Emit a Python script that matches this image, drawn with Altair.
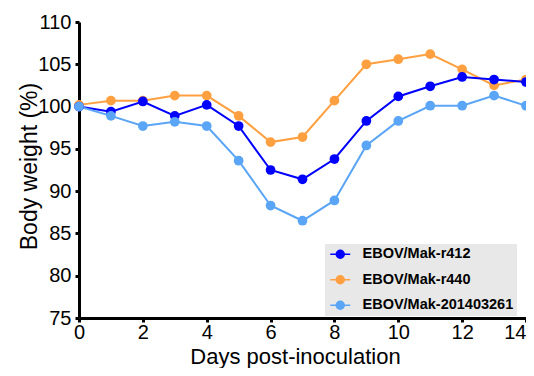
import altair as alt
import pandas as pd

days = list(range(15))
series_names = ["EBOV/Mak-r412", "EBOV/Mak-r440", "EBOV/Mak-201403261"]
colors = ["#0000FF", "#FFA040", "#5AA5F5"]
r412 = [100.0, 99.4, 100.6, 98.9, 100.2, 97.7, 92.5, 91.4, 93.8, 98.3, 101.2, 102.4, 103.5, 103.2, 102.9]
r440 = [100.2, 100.7, 100.7, 101.3, 101.3, 98.9, 95.8, 96.4, 100.7, 105.0, 105.6, 106.2, 104.4, 102.5, 103.2]
mak2014 = [100.0, 98.9, 97.7, 98.2, 97.7, 93.6, 88.3, 86.5, 88.9, 95.4, 98.3, 100.1, 100.1, 101.3, 100.1]
x_ticks = list(range(0, 15, 2))
y_ticks = list(range(75, 111, 5))

# drawing order: orange bottom, dark blue, light blue top
rows = []
for name, vals, order in [(series_names[1], r440, 0), (series_names[0], r412, 1), (series_names[2], mak2014, 2)]:
    for d, v in zip(days, vals):
        rows.append({"day": d, "weight": v, "series": name, "ord": order})
df = pd.DataFrame(rows)

font = "Liberation Sans"
color = alt.Color(
    "series:N",
    scale=alt.Scale(domain=series_names, range=colors),
    legend=alt.Legend(
        title=None,
        orient="none",
        legendX=246,
        legendY=222,
        fillColor="#e8e8e8",
        padding=3,
        labelFont=font,
        labelFontSize=14.5,
        labelFontWeight="bold",
        labelColor="black",
        symbolType="M-1,0H3M1.8,0A0.8,0.8,0,1,1,0.2,0A0.8,0.8,0,1,1,1.8,0Z",
        symbolSize=100,
        symbolStrokeWidth=1.5,
        rowPadding=9.5,
        labelOffset=20,
    ),
)

x = alt.X(
    "day:Q",
    scale=alt.Scale(domain=[0, 14], nice=False),
    axis=alt.Axis(
        values=x_ticks,
        title="Days post-inoculation",
        labelPadding=0,
        labelAlign={"expr": "datum.value == 14 ? 'right' : 'center'"},
        titleX=216,
        titleY=45,
        titleBaseline="alphabetic",
        titleFontSize=22,
    ),
)
y = alt.Y(
    "weight:Q",
    scale=alt.Scale(domain=[75, 110], nice=False, zero=False),
    axis=alt.Axis(
        values=y_ticks,
        title="Body weight (%)",
        labelPadding=4,
        titleX=-42.5,
        titleY=144,
        titleBaseline="alphabetic",
        titleFontSize=23,
    ),
)

base = alt.Chart(df)
lines = base.mark_line(strokeWidth=2).encode(x=x, y=y, color=color, detail="series:N", order="ord:Q")
points = base.mark_circle(size=95, opacity=1).encode(x=x, y=y, color=color, order="ord:Q")

chart = (
    alt.layer(lines, points)
    .properties(
        width=447,
        height=296,
        background="white",
        autosize=alt.AutoSizeParams(type="none"),
        padding={"left": 71, "top": 14, "right": 0, "bottom": 50},
    )
    .configure_view(stroke=None)
    .configure_axis(
        grid=False,
        domainColor="black",
        domainWidth=3,
        tickColor="black",
        tickWidth=3,
        tickSize=4,
        labelFont=font,
        labelFontSize=20,
        labelColor="black",
        titleFont=font,
        titleFontWeight="normal",
        titleColor="black",
    )
)

chart.save("out.html", embed_options={"renderer": "svg", "actions": False})
